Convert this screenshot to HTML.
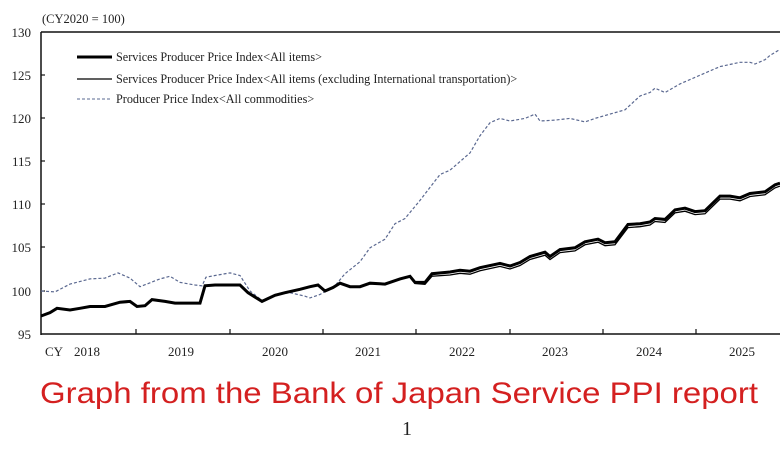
<!DOCTYPE html>
<html><head><meta charset="utf-8"><style>
html,body{margin:0;padding:0;background:#fff;}
svg{display:block;}
</style></head><body>
<svg width="780" height="470" xmlns="http://www.w3.org/2000/svg" font-family="Liberation Serif, serif">
<rect width="780" height="470" fill="#fff"/>
<text x="42" y="23" font-size="12.5" fill="#222">(CY2020 = 100)</text>
<g font-size="13" fill="#222" text-anchor="end">
<text x="31" y="37">130</text><text x="31" y="80">125</text><text x="31" y="123">120</text>
<text x="31" y="166">115</text><text x="31" y="209">110</text><text x="31" y="252">105</text>
<text x="31" y="296">100</text><text x="31" y="339">95</text>
</g>
<g stroke="#111" stroke-width="1.5" fill="none">
<line x1="41" y1="32" x2="780" y2="32"/>
<line x1="41" y1="32" x2="41" y2="335"/>
<line x1="41" y1="334" x2="780" y2="334"/>
</g>
<g stroke="#111" stroke-width="1.2">
<line x1="41" y1="75" x2="45" y2="75"/><line x1="41" y1="118" x2="45" y2="118"/>
<line x1="41" y1="161" x2="45" y2="161"/><line x1="41" y1="204" x2="45" y2="204"/>
<line x1="41" y1="247" x2="45" y2="247"/><line x1="41" y1="291" x2="45" y2="291"/>
<line x1="136" y1="334" x2="136" y2="329"/><line x1="230" y1="334" x2="230" y2="329"/>
<line x1="323" y1="334" x2="323" y2="329"/><line x1="416" y1="334" x2="416" y2="329"/>
<line x1="510" y1="334" x2="510" y2="329"/><line x1="603" y1="334" x2="603" y2="329"/>
<line x1="696" y1="334" x2="696" y2="329"/>
</g>
<text x="45" y="356" font-size="13" fill="#222">CY</text>
<text x="74" y="356" font-size="13" fill="#222">2018</text>
<text x="168" y="356" font-size="13" fill="#222">2019</text>
<text x="262" y="356" font-size="13" fill="#222">2020</text>
<text x="355" y="356" font-size="13" fill="#222">2021</text>
<text x="449" y="356" font-size="13" fill="#222">2022</text>
<text x="542" y="356" font-size="13" fill="#222">2023</text>
<text x="636" y="356" font-size="13" fill="#222">2024</text>
<text x="729" y="356" font-size="13" fill="#222">2025</text>
<g font-size="12.2" fill="#222">
<line x1="77" y1="57" x2="112" y2="57" stroke="#000" stroke-width="3"/>
<text x="116" y="61">Services Producer Price Index&lt;All items&gt;</text>
<line x1="77" y1="79" x2="112" y2="79" stroke="#000" stroke-width="1.3"/>
<text x="116" y="83">Services Producer Price Index&lt;All items (excluding International transportation)&gt;</text>
<line x1="77" y1="99" x2="112" y2="99" stroke="#5a6890" stroke-width="1" stroke-dasharray="3,2"/>
<text x="116" y="103">Producer Price Index&lt;All commodities&gt;</text>
</g>
<path id="ppi" fill="none" stroke="#5a6890" stroke-width="1.2" stroke-dasharray="3,2"/>
<path id="spx" fill="none" stroke="#000" stroke-width="1.3"/>
<path id="sp" fill="none" stroke="#000" stroke-width="3"/>
<text x="399" y="403" font-family="Liberation Sans, sans-serif" font-size="30" fill="#d42020" text-anchor="middle" textLength="718" lengthAdjust="spacingAndGlyphs">Graph from the Bank of Japan Service PPI report</text>
<text x="407" y="435" font-size="20" fill="#222" text-anchor="middle">1</text>
</svg>
<script>
function Y(v){return 291-(v-100)*8.63;}
function P(a){var d="";for(var i=0;i<a.length;i+=2){d+=(i?"L":"M")+a[i]+","+Y(a[i+1]).toFixed(1);}return d;}
var sp=[41,97.1,50,97.5,57,98.0,70,97.8,80,98.0,90,98.2,105,98.2,120,98.7,130,98.8,137,98.2,145,98.3,152,99.0,165,98.8,175,98.6,200,98.6,205,100.6,215,100.7,240,100.7,248,99.8,262,98.8,275,99.5,285,99.8,300,100.2,310,100.5,318,100.7,325,100.0,333,100.4,340,100.9,350,100.5,360,100.5,370,100.9,385,100.8,400,101.4,410,101.7,415,101.0,425,101.0,432,102.0,450,102.2,460,102.4,470,102.3,480,102.7,500,103.2,510,102.9,520,103.3,530,104.0,545,104.5,550,104.0,560,104.8,575,105.0,585,105.7,598,106.0,605,105.6,615,105.7,628,107.7,640,107.8,650,108.0,655,108.4,665,108.3,675,109.4,685,109.6,695,109.2,705,109.3,720,111.0,730,111.0,740,110.8,750,111.3,765,111.5,775,112.3,780,112.5];
var ppi=[41,100.0,55,99.9,70,100.8,90,101.4,105,101.5,118,102.1,130,101.5,140,100.5,160,101.4,170,101.7,180,101.0,195,100.7,202,100.6,206,101.6,215,101.8,230,102.1,240,101.8,250,100.0,262,98.9,275,99.6,290,99.8,305,99.4,310,99.2,320,99.6,335,100.6,345,102.0,360,103.4,370,105.0,385,106.0,395,107.8,405,108.4,420,110.5,430,112.0,440,113.5,450,114.0,470,116.0,480,118.0,490,119.5,500,120.0,510,119.7,525,120.0,535,120.5,540,119.7,555,119.8,570,120.0,585,119.6,595,120.0,610,120.5,625,121.0,640,122.6,650,123.0,655,123.5,665,123.0,680,124.0,700,125.0,720,126.0,740,126.5,750,126.5,755,126.3,765,126.8,770,127.3,780,128.0];
document.getElementById("sp").setAttribute("d",P(sp));
document.getElementById("ppi").setAttribute("d",P(ppi));
var sx=[];for(var i=0;i<sp.length;i+=2){var x=sp[i];var o=x<400?0:(x<440?(x-400)/40*0.35:0.35);sx.push(x,sp[i+1]-o);}
document.getElementById("spx").setAttribute("d",P(sx));
</script>
</body></html>
